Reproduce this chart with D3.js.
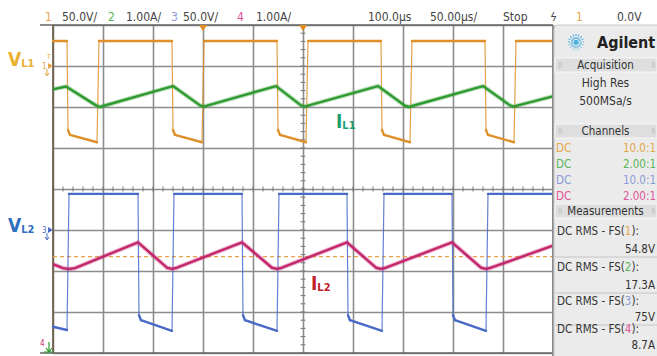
<!DOCTYPE html>
<html>
<head>
<meta charset="utf-8">
<script src="https://cdn.jsdelivr.net/npm/d3@7"></script>
<style>
  body { margin: 0; background: #fff; }
  svg { display: block; }
  text { font-family: "DejaVu Sans Condensed", "DejaVu Sans", sans-serif; }
</style>
</head>
<body>
<div id="chart"></div>
<script>
// ---- header / side panel strings ----
const channelIds = ['1', '2', '3', '4'];
const channelScales = ['50.0V/', '1.00A/', '50.0V/', '1.00A/'];
const timeLabels = ['100.0µs', '50.00µs/', 'Stop'];
const triggerLabels = ['1', '0.0V'];
const acquisitionLines = ['High Res', '500MSa/s'];
const couplings = ['DC', 'DC', 'DC', 'DC'];
const probeRatios = ['10.0:1', '2.00:1', '10.0:1', '2.00:1'];
const measureNames = ['DC RMS - FS(', 'DC RMS - FS(', 'DC RMS - FS(', 'DC RMS - FS('];
const measureValues = ['54.8V', '17.3A', '75V', '8.7A'];

// ---- vertical setup: value at screen centre, units per division ----
const centreValues = [-150, 15.0, 50, 10.3];
const perDivision = [50, 1, 50, 1];

// ---- time base (µs, trigger at 0) ----
const timeStart = -150;
const timeEnd = 350;
const timePerDiv = 50;

// ---- channel 1 : V_L1 (V) ----
const ch1Time = [-150, -136, -135, -133, -106, -104, -31, -30, -28, -1, 1, 74, 75, 77, 103, 105,
  178, 179, 181, 207, 209, 282, 283, 285, 311, 313, 350];
const ch1Volt = [30.5, 30.5, -78, -84, -93, 30.5, 30.5, -78, -84, -93, 30.5, 30.5, -78, -84, -93, 30.5,
  30.5, -78, -84, -93, 30.5, 30.5, -78, -84, -93, 30.5, 30.5];

// ---- channel 2 : I_L1 (A) ----
const ch2Time = [-150, -137, -107, -103, -99, -30, -3, 1, 5, 73, 98, 102, 106, 175, 202, 206, 210, 280, 307, 311, 315, 350];
const ch2Amp = [17.43, 17.50, 17.04, 17.00, 17.03, 17.51, 17.04, 17.01, 17.04, 17.51, 17.04, 17.01, 17.04,
  17.51, 17.03, 17.00, 17.03, 17.51, 17.04, 17.01, 17.04, 17.26];

// ---- channel 3 : V_L2 (V) ----
const ch3Time = [-150, -136, -134, -65, -64, -62, -31, -29, 39, 40, 42, 74, 76, 144, 145, 147, 179, 181,
  249, 250, 252, 283, 285, 350];
const ch3Volt = [-118, -122, 44, 44, -104, -110, -123, 44, 44, -104, -110, -123, 44, 44, -104, -110, -123, 44,
  44, -104, -110, -123, 44, 44];

// ---- channel 4 : I_L2 (A) ----
const ch4Time = [-150, -140, -134, -128, -65, -36, -31, -26, 39, 69, 74, 79, 144, 173, 178, 183, 249, 278, 283, 288, 350];
const ch4Amp = [8.47, 8.37, 8.35, 8.37, 9.00, 8.38, 8.35, 8.38, 9.00, 8.38, 8.35, 8.38, 9.00, 8.38, 8.35, 8.38,
  9.00, 8.38, 8.35, 8.38, 8.92];

// dashed orange marker level (on channel 4 scale, A)
const markerLevel = 8.65;

const traceColors = ['#df9029', '#2f9a2f', '#4a6ac8', '#c4266c'];
const headerColors = ['#e4a649', '#58b558', '#8a9bd8', '#e0549c'];

const W = 657, H = 356;
const plot = { left: 53, right: 553, top: 25, bottom: 353 };

const svg = d3.select('#chart').append('svg').attr('width', W).attr('height', H);

const x = d3.scaleLinear().domain([timeStart, timeEnd]).range([plot.left, plot.right]);
const div = d3.scaleLinear().domain([-4, 4]).range([plot.bottom, plot.top]);
const yScales = centreValues.map((c, i) =>
  d3.scaleLinear().domain([c - 4 * perDivision[i], c + 4 * perDivision[i]]).range([plot.bottom, plot.top]));

// ---- grid ----
const grid = svg.append('g').attr('class', 'grid');
grid.append('g')
  .attr('transform', 'translate(0,' + plot.bottom + ')')
  .call(d3.axisBottom(x).tickValues(d3.range(timeStart, timeEnd + 1, timePerDiv))
    .tickSize(-(plot.bottom - plot.top)).tickFormat(''))
  .call(g => g.select('.domain').remove());
grid.append('g')
  .attr('transform', 'translate(' + plot.left + ',0)')
  .call(d3.axisLeft(div).tickValues(d3.range(-4, 5))
    .tickSize(-(plot.right - plot.left)).tickFormat(''))
  .call(g => g.select('.domain').remove());
grid.selectAll('.tick line').attr('stroke', '#8c8c8c').attr('stroke-width', 1.6);

// minor ticks on the centre lines
const xc = x((timeStart + timeEnd) / 2);
const yc = div(0);
grid.selectAll('.hminor')
  .data(d3.range(timeStart, timeEnd, timePerDiv / 5))
  .join('line')
  .attr('x1', d => x(d)).attr('x2', d => x(d))
  .attr('y1', yc - 2.5).attr('y2', yc + 2.5)
  .attr('stroke', '#777').attr('stroke-width', 1);
grid.selectAll('.vminor')
  .data(d3.range(-4, 4, 0.2))
  .join('line')
  .attr('x1', xc - 2.5).attr('x2', xc + 2.5)
  .attr('y1', d => div(d)).attr('y2', d => div(d))
  .attr('stroke', '#777').attr('stroke-width', 1);

// frame
svg.append('line').attr('x1', 40).attr('x2', plot.right).attr('y1', plot.top).attr('y2', plot.top)
  .attr('stroke', '#666').attr('stroke-width', 1.3);
svg.append('line').attr('x1', 40).attr('x2', plot.right).attr('y1', plot.bottom).attr('y2', plot.bottom)
  .attr('stroke', '#666').attr('stroke-width', 1.3);
svg.append('line').attr('x1', plot.left).attr('x2', plot.left).attr('y1', plot.top).attr('y2', plot.bottom)
  .attr('stroke', '#6b5a45').attr('stroke-width', 1.6);

// dashed marker
svg.append('line')
  .attr('x1', plot.left).attr('x2', plot.right)
  .attr('y1', yScales[3](markerLevel)).attr('y2', yScales[3](markerLevel))
  .attr('stroke', '#e8a24a').attr('stroke-width', 1.2).attr('stroke-dasharray', '4,3');

// ---- traces ----
function drawSquare(times, vals, i) {
  const pts = d3.zip(times, vals);
  const line = d3.line().x(d => x(d[0])).y(d => yScales[i](d[1]));
  svg.append('path').attr('d', line(pts)).attr('fill', 'none')
    .attr('stroke', traceColors[i]).attr('stroke-width', 1.2).attr('opacity', 0.85);
  // flat levels look heavier on the scope
  const levels = d3.pairs(pts).filter(p => Math.abs(p[1][1] - p[0][1]) < 15);
  svg.append('g').selectAll('path').data(levels).join('path')
    .attr('d', d => line(d)).attr('fill', 'none')
    .attr('stroke', traceColors[i]).attr('stroke-width', 2.4).attr('stroke-linecap', 'round');
}
function drawRipple(times, vals, i) {
  const pts = d3.zip(times, vals);
  const line = d3.line().x(d => x(d[0])).y(d => yScales[i](d[1]));
  svg.append('path').attr('d', line(pts)).attr('fill', 'none')
    .attr('stroke', traceColors[i]).attr('stroke-width', 4.6).attr('opacity', 0.3)
    .attr('stroke-linejoin', 'round');
  svg.append('path').attr('d', line(pts)).attr('fill', 'none')
    .attr('stroke', traceColors[i]).attr('stroke-width', 2.4).attr('stroke-linejoin', 'round');
}
drawSquare(ch1Time, ch1Volt, 0);
drawSquare(ch3Time, ch3Volt, 2);
drawRipple(ch2Time, ch2Amp, 1);
drawRipple(ch4Time, ch4Amp, 3);

// time reference markers
[0, (timeStart + timeEnd) / 2].forEach(t => {
  const px = x(t);
  svg.append('path').attr('d', `M${px - 4},${plot.top} L${px + 4},${plot.top} L${px},${plot.top + 6}Z`)
    .attr('fill', '#e08a20');
});

// ---- channel ground markers ----
function groundMarker(label, yPos, color) {
  const g = svg.append('g').attr('transform', `translate(42,${yPos})`);
  g.append('text').attr('x', 0).attr('y', 3).attr('font-size', 8).attr('fill', color).text(label);
  g.append('path').attr('d', 'M6,-3 L11,0 L6,3Z').attr('fill', color);
  g.append('path').attr('d', 'M5,3 L5,9 M3,7 L5,10 L7,7').attr('stroke', color).attr('fill', 'none');
}
groundMarker(channelIds[0], yScales[0](0), headerColors[0]);
groundMarker(channelIds[2], yScales[2](0), traceColors[2]);
svg.append('text').attr('x', 47).attr('y', yScales[0](0) - 7).attr('font-size', 7)
  .attr('fill', headerColors[0]).text('T');
svg.append('text').attr('x', 40).attr('y', 346).attr('font-size', 8).attr('fill', traceColors[3]).text(channelIds[3]);
svg.append('path').attr('d', 'M49,342 L49,352 M46,348 L49,352 L52,348 M44,352 L54,352')
  .attr('stroke', '#2f9a2f').attr('fill', 'none').attr('stroke-width', 1.2);

// ---- waveform labels ----
function sigLabel(main, sub, px, py, color) {
  const t = svg.append('text').attr('x', px).attr('y', py)
    .attr('font-family', '"Liberation Serif", "DejaVu Serif", serif')
    .attr('font-weight', 'bold').attr('fill', color);
  t.append('tspan').attr('font-size', 19).text(main);
  t.append('tspan').attr('font-size', 11).attr('dy', 1).text(sub);
}
sigLabel('V', 'L1', 8, 66, '#e9b032');
sigLabel('V', 'L2', 8, 232, '#2f6fbf');
sigLabel('I', 'L1', 336, 128, '#19a06e');
sigLabel('I', 'L2', 311, 290, '#c0202a');

// ---- header ----
const head = svg.append('g').attr('font-size', 12).attr('fill', '#444');
const idX = [45, 108, 171, 237];
const scaleX = [62, 126, 183, 256];
channelIds.forEach((c, i) => {
  head.append('text').attr('x', idX[i]).attr('y', 21).attr('fill', headerColors[i]).text(c);
  head.append('text').attr('x', scaleX[i]).attr('y', 21).text(channelScales[i]);
});
[368, 430, 503].forEach((px, i) => head.append('text').attr('x', px).attr('y', 21).text(timeLabels[i]));
head.append('text').attr('x', 550).attr('y', 21).attr('font-style', 'italic').text('ϟ');
head.append('text').attr('x', 576).attr('y', 21).attr('fill', headerColors[0]).text(triggerLabels[0]);
head.append('text').attr('x', 617).attr('y', 21).text(triggerLabels[1]);

// ---- side panel ----
const px0 = 554, pw = 103, pcx = px0 + pw / 2;
const panel = svg.append('g');
panel.append('rect').attr('x', plot.right - 1).attr('y', plot.top).attr('width', 2).attr('height', H - plot.top)
  .attr('fill', '#8a8a8a');
panel.append('rect').attr('x', px0).attr('y', plot.top).attr('width', pw + 4).attr('height', H - plot.top + 4)
  .attr('rx', 4).attr('fill', '#ebebeb').attr('stroke', '#c9c9c9');

// logo
const logo = panel.append('g').attr('transform', 'translate(576,42)');
d3.range(0, 180, 22.5).forEach(a => {
  logo.append('line').attr('x1', -8).attr('x2', 8).attr('y1', 0).attr('y2', 0)
    .attr('transform', `rotate(${a})`).attr('stroke', '#4aaee0').attr('stroke-width', 1.1)
    .attr('stroke-dasharray', '2,1');
});
logo.append('circle').attr('r', 2).attr('fill', '#4aaee0');
panel.append('text').attr('x', 597).attr('y', 48)
  .attr('font-family', '"Liberation Sans", Arial, sans-serif').attr('font-weight', 'bold')
  .attr('font-size', 16).attr('fill', '#222').text('Agilent');

function sectionHeader(label, yTop) {
  panel.append('rect').attr('x', px0 + 1).attr('y', yTop).attr('width', pw - 1).attr('height', 14)
    .attr('fill', '#dedede').attr('stroke', '#f7f7f7');
  panel.append('text').attr('x', pcx).attr('y', yTop + 11).attr('text-anchor', 'middle')
    .attr('font-size', 11.5).attr('fill', '#333').text(label);
  [px0 + 4, px0 + pw - 6].forEach(gx => panel.append('text').attr('x', gx).attr('y', yTop + 10)
    .attr('font-size', 7).attr('fill', '#aaa').text('⠿'));
}
sectionHeader('Acquisition', 58);
acquisitionLines.forEach((s, i) => panel.append('text').attr('x', pcx).attr('y', 87 + i * 18)
  .attr('text-anchor', 'middle').attr('font-size', 12).attr('fill', '#333').text(s));

sectionHeader('Channels', 124);
couplings.forEach((c, i) => {
  const yy = 152 + i * 16;
  panel.append('text').attr('x', 556).attr('y', yy).attr('font-size', 11.5)
    .attr('fill', headerColors[i]).text(c);
  panel.append('text').attr('x', 656).attr('y', yy).attr('text-anchor', 'end').attr('font-size', 11.5)
    .attr('fill', headerColors[i]).text(probeRatios[i]);
});

sectionHeader('Measurements', 204);
const measTop = [235, 271, 305, 333];
const measVal = [253, 289, 321, 349];
measureNames.forEach((m, i) => {
  const t = panel.append('text').attr('x', 557).attr('y', measTop[i]).attr('font-size', 11.5).attr('fill', '#333');
  t.append('tspan').text(m);
  t.append('tspan').attr('fill', headerColors[i]).text(channelIds[i]);
  t.append('tspan').text('):');
  panel.append('text').attr('x', 655).attr('y', measVal[i]).attr('text-anchor', 'end')
    .attr('font-family', '"DejaVu Sans Mono", monospace').attr('font-size', 11.5)
    .attr('fill', '#333').text(measureValues[i]);
  if (i < 3) {
    panel.append('line').attr('x1', px0 + 1).attr('x2', px0 + pw).attr('y1', measVal[i] + 4).attr('y2', measVal[i] + 4)
      .attr('stroke', '#c4c4c4');
  }
});
</script>
</body>
</html>
